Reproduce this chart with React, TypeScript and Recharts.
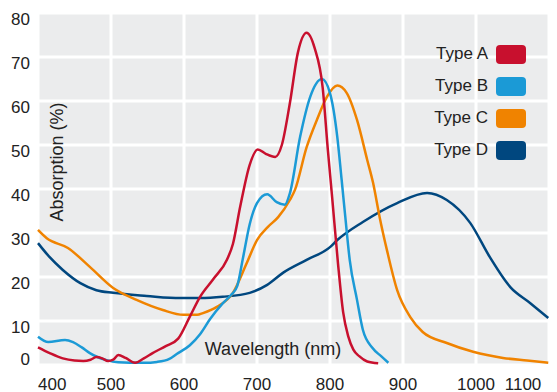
import { CartesianGrid, Label, Line, LineChart, XAxis, YAxis } from 'recharts'

const FONT = "'Liberation Sans', Arial, sans-serif"

// wavelength (nm) / absorption (%)
const typeANm = [400, 416, 434, 450, 462, 472, 480, 488, 496, 503, 510, 520, 533, 545, 557, 575, 592, 608, 622, 640, 659, 667, 677, 690, 701, 712, 725, 734, 745, 756, 768, 779, 790, 797, 803, 811, 818, 825, 832, 840, 851, 866]
const typeAVal = [4, 2.7, 1.5, 1.0, 0.9, 1.2, 1.8, 1.5, 0.9, 1.2, 2.3, 1.6, 0.5, 1.5, 2.7, 4.3, 6, 11, 15.5, 19.5, 24, 27.5, 36, 45.5, 49, 48, 47.3, 50, 59.5, 71, 75.5, 72, 63, 49, 38, 23, 12, 6.5, 3.5, 2, 0.8, 0.4]

const typeBNm = [400, 414, 437, 448, 460, 471, 494, 510, 526, 545, 563, 580, 590, 608, 622, 636, 653, 665, 673, 681, 690, 700, 714, 727, 738, 745, 759, 773, 789, 800, 810, 816, 821, 827, 837, 845, 858, 870, 880]
const typeBVal = [6.4, 5.2, 5.7, 5.2, 4, 2.7, 1.1, 0.6, 0.5, 0.5, 0.7, 1.4, 2.5, 4.5, 7, 10.5, 14, 16, 18, 24.5, 32, 36.8, 38.8, 37, 36.4, 39, 51.8, 61, 65, 61.8, 51.8, 42, 33.6, 23.9, 14.8, 8, 3.9, 2, 0.5]

const typeCNm = [400, 412, 441, 471, 503, 535, 571, 599, 618, 626, 645, 667, 686, 700, 715, 729, 745, 752, 768, 782, 796, 810, 823, 837, 851, 859, 868, 878, 892, 910, 927, 960, 996, 1037, 1070, 1099]
const typeCVal = [30.7, 28.8, 26.6, 22.3, 17.5, 14.8, 12.5, 11.4, 11.4, 11.8, 13.2, 16.4, 23.2, 28.4, 31.4, 33.6, 37.5, 39.8, 49.5, 55.7, 61, 63.5, 61.8, 55.7, 46.6, 41.4, 33.6, 26.1, 17, 10.9, 7.5, 5, 3, 1.6, 1, 0.5]

const typeDNm = [400, 416, 434, 458, 480, 503, 549, 595, 622, 653, 690, 714, 736, 768, 800, 810, 845, 892, 933, 960, 992, 1019, 1047, 1074, 1099]
const typeDVal = [27.7, 24.5, 21.6, 18.6, 17, 16.4, 15.7, 15.2, 15.2, 15.5, 16.4, 18.2, 21, 23.9, 26.8, 28.4, 32.5, 36.8, 39.1, 37.5, 32.3, 24.5, 17.7, 14.1, 10.7]

const xTicks = [400, 500, 600, 700, 800, 900, 1000, 1100]
const yTicks = [0, 10, 20, 30, 40, 50, 60, 70, 80]

const toPoints = (nm: number[], val: number[]) => nm.map((x, i) => ({ x, y: val[i] }))

const series = [
  { name: 'Type A', color: '#c8102e', data: toPoints(typeANm, typeAVal) },
  { name: 'Type B', color: '#1b9ad6', data: toPoints(typeBNm, typeBVal) },
  { name: 'Type C', color: '#f08300', data: toPoints(typeCNm, typeCVal) },
  { name: 'Type D', color: '#00477f', data: toPoints(typeDNm, typeDVal) },
]

function XTick({ x, y, payload }: any) {
  const v = payload.value
  const anchor = v === 400 ? 'start' : v === 1100 ? 'end' : 'middle'
  return (
    <text x={x} y={y + 16.5} textAnchor={anchor} fontSize={17} fontFamily={FONT} fill="#222">
      {v}
    </text>
  )
}

function YTick({ x, y, payload }: any) {
  const v = payload.value
  return (
    <text x={x} y={v === 0 ? y : y + 11.5} textAnchor="end" fontSize={17} fontFamily={FONT} fill="#222">
      {v}
    </text>
  )
}

// legend sits over the plot, top right
function LegendBox() {
  return (
    <div style={{ position: 'absolute', top: 38, right: 31, fontFamily: FONT, fontSize: 17, color: '#222' }}>
      {series.map((s) => (
        <div key={s.name} style={{ display: 'flex', alignItems: 'center', justifyContent: 'flex-end', height: 32 }}>
          <span>{s.name}</span>
          <span style={{ display: 'inline-block', width: 30, height: 19, borderRadius: 4, background: s.color, marginLeft: 8 }} />
        </div>
      ))}
    </div>
  )
}

export default function App() {
  return (
    <div style={{ position: 'absolute', left: 0, top: 0, width: 557, height: 392, background: '#fff' }}>
      <LineChart width={557} height={392} margin={{ top: 13, right: 8, bottom: 0, left: 0 }}>
        <CartesianGrid fill="#ebeced" fillOpacity={1} stroke="#fff" strokeWidth={3} />
        <XAxis
          type="number"
          dataKey="x"
          domain={[400, 1100]}
          ticks={xTicks}
          height={27}
          axisLine={false}
          tickLine={false}
          tick={<XTick />}
          allowDuplicatedCategory={false}
        >
          <Label
            content={() => (
              <text x={273} y={355} textAnchor="middle" fontSize={18} fontFamily={FONT} fill="#222">
                Wavelength (nm)
              </text>
            )}
          />
        </XAxis>
        <YAxis
          type="number"
          dataKey="y"
          domain={[0, 80]}
          ticks={yTicks}
          width={38}
          axisLine={false}
          tickLine={false}
          tick={<YTick />}
        >
          <Label
            content={() => (
              <text x={63} y={162} transform="rotate(-90, 63, 162)" textAnchor="middle" fontSize={18} fontFamily={FONT} fill="#222">
                Absorption (%)
              </text>
            )}
          />
        </YAxis>
        {[...series].reverse().map((s) => (
          <Line
            key={s.name}
            data={s.data}
            dataKey="y"
            name={s.name}
            type="monotone"
            stroke={s.color}
            strokeWidth={2.5}
            dot={false}
            isAnimationActive={false}
          />
        ))}
      </LineChart>
      <LegendBox />
    </div>
  )
}
